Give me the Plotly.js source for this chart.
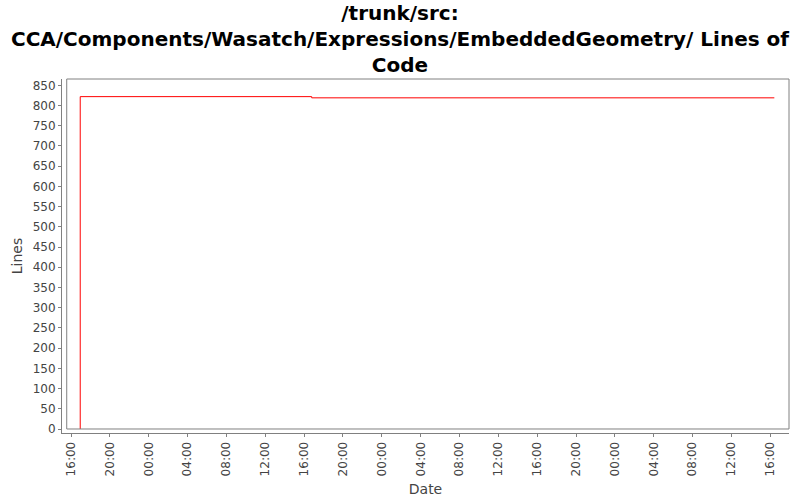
<!DOCTYPE html>
<html>
<head>
<meta charset="utf-8">
<script src="https://cdn.plot.ly/plotly-3.0.1.min.js"></script>
<style>html,body{margin:0;padding:0;background:#fff;}#chart{width:800px;height:500px;}</style>
</head>
<body>
<div id="chart"></div>
<script>
// Data (step series of lines of code)
const dates = ["2010-06-01 16:57", "2010-06-01 16:57", "2010-06-02 16:47", "2010-06-04 16:25"];
const lines = [0, 822, 819, 819];
const chartTitle = "/trunk/src:<br>CCA/Components/Wasatch/Expressions/EmbeddedGeometry/ Lines of<br>Code";
const yTickVals = [0,50,100,150,200,250,300,350,400,450,500,550,600,650,700,750,800,850];

const trace = {
  x: dates, y: lines, type: 'scatter', mode: 'lines',
  line: {color: '#ff0000', width: 1, shape: 'hv'},
  hoverinfo: 'skip', showlegend: false
};

const axisFont = {family: 'DejaVu Sans, sans-serif', size: 12, color: '#444444'};
const layout = {
  width: 800, height: 500,
  paper_bgcolor: '#ffffff', plot_bgcolor: '#ffffff',
  margin: {l: 62, r: 11, t: 79, b: 67, pad: 0},
  title: {
    text: chartTitle,
    font: {family: 'DejaVu Sans, sans-serif', size: 20, color: '#000000', weight: 'bold'},
    x: 0.5, xanchor: 'center', xref: 'container',
    y: 0.96, yanchor: 'middle', yref: 'container'
  },
  xaxis: {
    type: 'date',
    range: ['2010-06-01 15:04:24', '2010-06-04 17:55:36'],
    tick0: '2010-06-01 00:00', dtick: 4*3600*1000,
    tickformat: '%H:%M', tickangle: -90,
    ticks: 'outside', ticklen: 3, tickwidth: 1, tickcolor: '#808080',
    showline: true, linecolor: '#808080', linewidth: 1,
    showgrid: false, zeroline: false,
    tickfont: axisFont,
    title: {text: 'Date', font: {family: 'DejaVu Sans, sans-serif', size: 14, color: '#444444'}, standoff: 8},
    fixedrange: true
  },
  yaxis: {
    range: [-9.9, 865.6],
    tickvals: yTickVals,
    ticks: 'outside', ticklen: 3, tickwidth: 1, tickcolor: '#808080',
    showline: true, linecolor: '#808080', linewidth: 1,
    showgrid: false, zeroline: false,
    tickfont: axisFont,
    title: {text: 'Lines', font: {family: 'DejaVu Sans, sans-serif', size: 14, color: '#444444'}, standoff: 6},
    fixedrange: true
  },
  shapes: [{
    type: 'rect', xref: 'paper', yref: 'paper',
    x0: 0.0065, x1: 1, y0: 0.0113, y1: 1,
    line: {color: '#808080', width: 1}, fillcolor: 'rgba(0,0,0,0)', layer: 'above'
  }]
};

Plotly.newPlot('chart', [trace], layout, {displayModeBar: false, staticPlot: true});
</script>
</body>
</html>
